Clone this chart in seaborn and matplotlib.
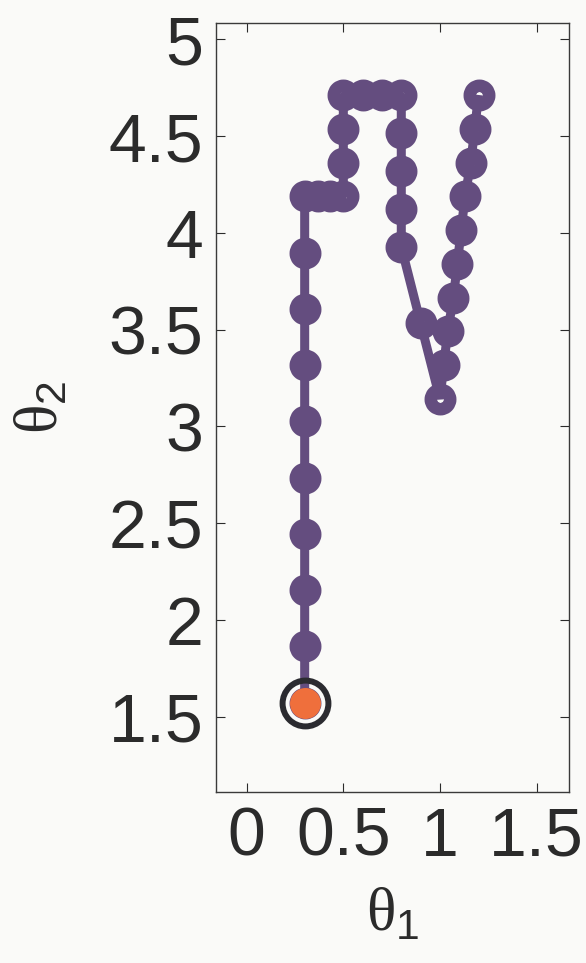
import numpy as np
import pandas as pd
import matplotlib
matplotlib.use("Agg")
import matplotlib.pyplot as plt
from matplotlib.ticker import FormatStrFormatter
import seaborn as sns

# path in joint space
theta1 = [0.3, 0.3, 0.3, 0.3, 0.3, 0.3, 0.3, 0.3, 0.3, 0.3,
          0.367, 0.433, 0.5,
          0.5, 0.5, 0.5,
          0.6, 0.7, 0.8,
          0.8, 0.8, 0.8, 0.8,
          0.9, 1.0,
          1.02, 1.04, 1.07, 1.09, 1.11, 1.13, 1.16, 1.18, 1.2]
theta2 = [1.571, 1.862, 2.153, 2.443, 2.734, 3.025, 3.316, 3.607, 3.898, 4.189,
          4.189, 4.189, 4.189,
          4.363, 4.538, 4.712,
          4.712, 4.712, 4.712,
          4.516, 4.320, 4.123, 3.927,
          3.534, 3.142,
          3.316, 3.491, 3.665, 3.840, 4.014, 4.189, 4.363, 4.538, 4.712]
xticks = [0, 0.5, 1, 1.5]
yticks = [1.5, 2, 2.5, 3, 3.5, 4, 4.5, 5]

purple = "#644d7f"
orange = "#ef6f3c"
ring = "#2b2b30"
bg = "#fafaf8"
ink = "#2b2b2b"

sns.set_style("ticks")
plt.rcParams["font.family"] = ["Liberation Sans", "DejaVu Sans"]
plt.rcParams["mathtext.fontset"] = "custom"
plt.rcParams["mathtext.rm"] = "Liberation Serif"
plt.rcParams["mathtext.sf"] = "Liberation Sans"

df = pd.DataFrame({"theta1": theta1, "theta2": theta2})

fig = plt.figure(figsize=(5.86, 9.63), dpi=100, facecolor=bg)
ax = fig.add_axes([216 / 586, 1 - 792 / 963, (569 - 216) / 586, (792 - 23) / 963])
ax.set_facecolor(bg)

sns.lineplot(data=df, x="theta1", y="theta2", sort=False, estimator=None, ax=ax,
             color=purple, linewidth=6.5, marker="o", markersize=14,
             markerfacecolor="none", markeredgecolor=purple, markeredgewidth=9,
             solid_capstyle="butt", solid_joinstyle="bevel", zorder=2)

# start configuration
ax.plot(theta1[0], theta2[0], marker="o", markersize=33, markerfacecolor="none",
        markeredgecolor=ring, markeredgewidth=4.3, linestyle="none", zorder=3)
ax.plot(theta1[0], theta2[0], marker="o", markersize=22.3, markerfacecolor=orange,
        markeredgecolor="none", linestyle="none", zorder=4)

ax.set_xlim(-0.159, 1.668)
ax.set_ylim(1.110, 5.084)
ax.set_xticks(xticks)
ax.set_yticks(yticks)
ax.xaxis.set_major_formatter(FormatStrFormatter("%g"))
ax.yaxis.set_major_formatter(FormatStrFormatter("%g"))
ax.tick_params(direction="in", length=6.5, width=0.8, color=ink, labelcolor=ink,
               labelsize=49, top=True, right=True)
ax.tick_params(axis="x", pad=10)
ax.tick_params(axis="y", pad=9)
for s in ax.spines.values():
    s.set_color("#3a3a3a")
    s.set_linewidth(1.0)

ax.set_xlabel(r"$\mathrm{\theta}_{\mathsf{1}}$", fontsize=44, color=ink, labelpad=12)
ax.set_ylabel(r"$\mathrm{\theta}_{\mathsf{2}}$", fontsize=44, color=ink, labelpad=28)

fig.savefig("out.png", dpi=100, facecolor=bg)
